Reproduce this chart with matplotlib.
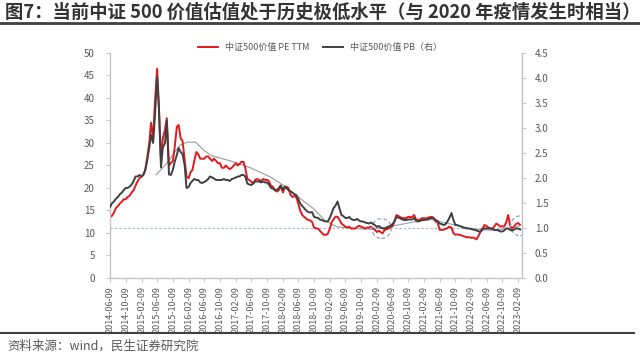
# -*- coding: utf-8 -*-
# 中证500价值 PE TTM 与 PB 走势
import matplotlib
matplotlib.use('Agg')
import matplotlib.pyplot as plt
import matplotlib.dates as mdates
from matplotlib.patches import Ellipse
import pandas as pd

plt.rcParams['font.family'] = ['Noto Sans CJK SC', 'DejaVu Sans']
plt.rcParams['axes.unicode_minus'] = False

# 半月频数据（每月 9 日、23 日附近）
pe_2014 = [13.5, 13.8, 14.5, 15.5, 16, 16.5, 17, 17.5, 17.5, 18, 18.3, 19, 19.5, 20.5]
pe_2015 = [21.5, 22.2, 22.5, 23, 24, 26.5, 30, 34.5, 31, 39, 46.5, 38,
           26, 31, 33, 35.5, 25, 25.5, 26, 29, 33.6, 34, 31, 30.5]
pe_2016 = [26, 22.5, 22.2, 23.5, 24, 26, 28, 27.5, 26.5, 26.5, 26.5, 27,
           27, 26.5, 26, 26.5, 26, 25.5, 25.5, 24.5, 24.5, 25, 24.5, 24.2]
pe_2017 = [24.5, 25, 25.5, 25, 25.3, 25.8, 25.8, 24.5, 22, 21.8, 21.4, 21,
           21.8, 22, 21.8, 21.5, 22, 21.8, 21.8, 21.5, 20.5, 20.3, 19.5, 19.2]
pe_2018 = [19.5, 20.5, 19, 20, 20.3, 20, 18.5, 18, 18.2, 18, 16.5, 15,
           14, 13.6, 13.2, 12.9, 12.8, 12.5, 11.2, 11, 11, 10.5, 10, 9.6]
pe_2019 = [9.6, 9.8, 11, 12.5, 13, 13.6, 13.6, 13, 12.1, 11.8, 11.4, 11.2,
           11.4, 11, 11, 11, 11.4, 11.6, 11.4, 11.2, 11, 11.2, 11.2, 11.4]
pe_2020 = [11, 10.7, 10.2, 10.5, 10.2, 9.9, 10.7, 10.8, 11, 11.2, 11.5, 12.5,
           14, 13.8, 13.5, 13.3, 13.3, 13.3, 13.6, 13.5, 13.6, 14, 13, 12.9]
pe_2021 = [13, 13.3, 13.3, 13.2, 13.4, 13.5, 13.6, 13.4, 12.5, 12.5, 10.7, 10.7,
           10.7, 10.9, 11.1, 11.4, 11.2, 10, 9.6, 9.7, 9.6, 9.5, 9.3, 9.2]
pe_2022 = [9, 9.1, 8.9, 9, 8.8, 8.6, 9.5, 10.3, 11, 11.8, 11.5, 11.2,
           11, 11, 11.5, 12.1, 11.8, 11.4, 11.5, 11.4, 12.5, 14, 11.5, 11]
pe_2023 = [11.5, 12, 12.2, 11.8]

pb_2014 = [1.42, 1.49, 1.53, 1.58, 1.62, 1.67, 1.71, 1.76, 1.80, 1.80, 1.83, 1.87, 1.94, 2.03]
pb_2015 = [2.03, 2.06, 2.03, 2.07, 2.16, 2.34, 2.61, 2.86, 2.70, 3.24, 4.02, 3.40,
           2.21, 2.61, 2.70, 3.15, 2.07, 2.06, 2.16, 2.32, 2.46, 2.60, 2.52, 2.48]
pb_2016 = [2.25, 1.80, 1.82, 1.90, 1.94, 1.98, 1.96, 1.96, 1.91, 1.90, 1.92, 1.94,
           1.98, 2.03, 2.01, 1.99, 1.96, 1.96, 1.96, 1.96, 1.98, 1.96, 1.96, 1.94]
pb_2017 = [1.98, 1.99, 2.01, 2.03, 2.03, 2.06, 2.06, 2.03, 1.89, 1.87, 1.86, 1.89,
           1.93, 1.93, 1.93, 1.91, 1.93, 1.91, 1.91, 1.87, 1.80, 1.79, 1.76, 1.76]
pb_2018 = [1.80, 1.85, 1.76, 1.83, 1.80, 1.76, 1.73, 1.71, 1.67, 1.66, 1.58, 1.49,
           1.44, 1.40, 1.35, 1.32, 1.31, 1.32, 1.22, 1.21, 1.20, 1.17, 1.16, 1.14]
pb_2019 = [1.13, 1.13, 1.21, 1.30, 1.40, 1.44, 1.53, 1.40, 1.26, 1.24, 1.20, 1.20,
           1.22, 1.18, 1.16, 1.16, 1.18, 1.15, 1.13, 1.13, 1.11, 1.10, 1.09, 1.11]
pb_2020 = [1.08, 1.06, 1.02, 1.04, 1.01, 0.99, 0.99, 1.01, 1.03, 1.04, 1.08, 1.13,
           1.22, 1.21, 1.19, 1.17, 1.16, 1.16, 1.17, 1.17, 1.17, 1.20, 1.14, 1.13]
pb_2021 = [1.14, 1.16, 1.16, 1.17, 1.17, 1.19, 1.20, 1.19, 1.16, 1.14, 1.09, 1.08,
           1.06, 1.07, 1.13, 1.20, 1.30, 1.17, 1.06, 1.06, 1.04, 1.03, 1.01, 1.00]
pb_2022 = [0.99, 0.99, 0.98, 0.97, 0.96, 0.95, 0.93, 0.93, 0.97, 0.99, 0.99, 0.99,
           0.99, 0.98, 0.96, 0.96, 0.95, 0.93, 0.93, 0.95, 0.99, 0.99, 0.96, 0.95]
pb_2023 = [0.97, 0.99, 0.99, 0.97]

pe = (pe_2014 + pe_2015 + pe_2016 + pe_2017 + pe_2018 + pe_2019 + pe_2020
      + pe_2021 + pe_2022 + pe_2023)
pb = (pb_2014 + pb_2015 + pb_2016 + pb_2017 + pb_2018 + pb_2019 + pb_2020
      + pb_2021 + pb_2022 + pb_2023)
dates = pd.date_range('2014-06-01', periods=len(pe), freq='SMS') + pd.Timedelta(days=8)

# 手绘趋势线（左轴刻度）
trend1_dates = pd.to_datetime(['2015-06-01', '2015-09-01', '2015-12-01', '2016-02-01',
                               '2016-04-01', '2016-06-01', '2016-08-01', '2017-01-01',
                               '2017-06-01', '2017-11-01', '2018-03-01', '2018-07-01',
                               '2018-10-01', '2019-01-01', '2019-04-01', '2019-08-01'])
trend1_vals = [22.9, 25.8, 29.5, 30.2, 30.2, 28.5, 27.2, 26, 24.5, 22.5, 20.3, 17.5,
               15.5, 12.8, 11.4, 11]
trend2_dates = pd.to_datetime(['2019-08-01', '2020-01-01', '2020-06-01', '2020-12-01',
                               '2021-04-01', '2021-09-01', '2022-02-01', '2022-07-01',
                               '2022-12-01', '2023-02-15'])
trend2_vals = [11, 10.8, 11.5, 12.5, 13, 12, 11, 10.6, 11, 11.5]

circle_dates = pd.to_datetime(['2020-03-15', '2023-02-25'])
circle_vals = [11, 11.6]

tick_dates = pd.date_range('2014-06-09', periods=27, freq=pd.DateOffset(months=4))
ref_level = 11.1

grey_txt = '#595959'
axis_c = '#bfbfbf'

fig = plt.figure(figsize=(6.4, 3.58), dpi=100)
ax = fig.add_axes([0.172, 0.2235, 0.644, 0.6285])
ax2 = ax.twinx()

ax.axhline(ref_level, color='#9fb6cd', lw=0.8, ls=(0, (2, 2)), zorder=1)
ax.plot(trend1_dates, trend1_vals, color='#9a9a9a', lw=0.8, zorder=2)
ax.plot(trend2_dates, trend2_vals, color='#8ea4bd', lw=0.8, zorder=2)
l1, = ax.plot(dates, pe, color='#e3191c', lw=1.4, zorder=3)
l2, = ax2.plot(dates, pb, color='#404040', lw=1.4, zorder=3)

for d, v in zip(circle_dates, circle_vals):
    xc = mdates.date2num(d)
    ax.add_patch(Ellipse((xc, v), width=150, height=4.4, fill=False,
                         edgecolor='#8fa3b8', lw=0.9, ls=(0, (3, 2)), zorder=4))

ax.set_xlim(pd.Timestamp('2014-06-09'), pd.Timestamp('2023-03-12'))
ax.set_ylim(0, 50)
ax2.set_ylim(0, 4.5)
ax.set_yticks(range(0, 51, 5))
ax2.set_yticks([i * 0.5 for i in range(10)])
ax2.set_yticklabels(['%.1f' % (i * 0.5) for i in range(10)])
ax.set_xticks(tick_dates)
ax.set_xticklabels([d.strftime('%Y-%m-%d') for d in tick_dates], rotation=90)

for a in (ax, ax2):
    a.spines['top'].set_visible(False)
    for s in ('left', 'right', 'bottom'):
        a.spines[s].set_color(axis_c)
        a.spines[s].set_linewidth(0.8)
    a.tick_params(colors=grey_txt, labelsize=7, length=3, width=0.6, color=axis_c)
ax.tick_params(axis='x', labelsize=6.5, pad=3)
ax.tick_params(axis='y', pad=8)
ax2.tick_params(axis='y', pad=6)

fig.legend([l1, l2], ['中证500价值 PE TTM', '中证500价值 PB（右）'],
           loc='center', bbox_to_anchor=(0.5, 0.868), ncol=2, frameon=False,
           fontsize=6.5, handlelength=2.2, columnspacing=1.5, labelcolor=grey_txt)

fig.text(0.008, 0.967, '图7：当前中证 500 价值估值处于历史极低水平（与 2020 年疫情发生时相当）',
         fontsize=13.2, fontweight='bold', color='#333333', va='center', ha='left')
fig.add_artist(plt.Line2D([0, 1], [0.936, 0.936], color='#404040', lw=2))
fig.add_artist(plt.Line2D([0, 0.99], [0.07, 0.07], color='#404040', lw=1.5))
fig.text(0.012, 0.033, '资料来源：wind，民生证券研究院', fontsize=9, color=grey_txt,
         va='center', ha='left')

fig.savefig('out.png', dpi=100)
